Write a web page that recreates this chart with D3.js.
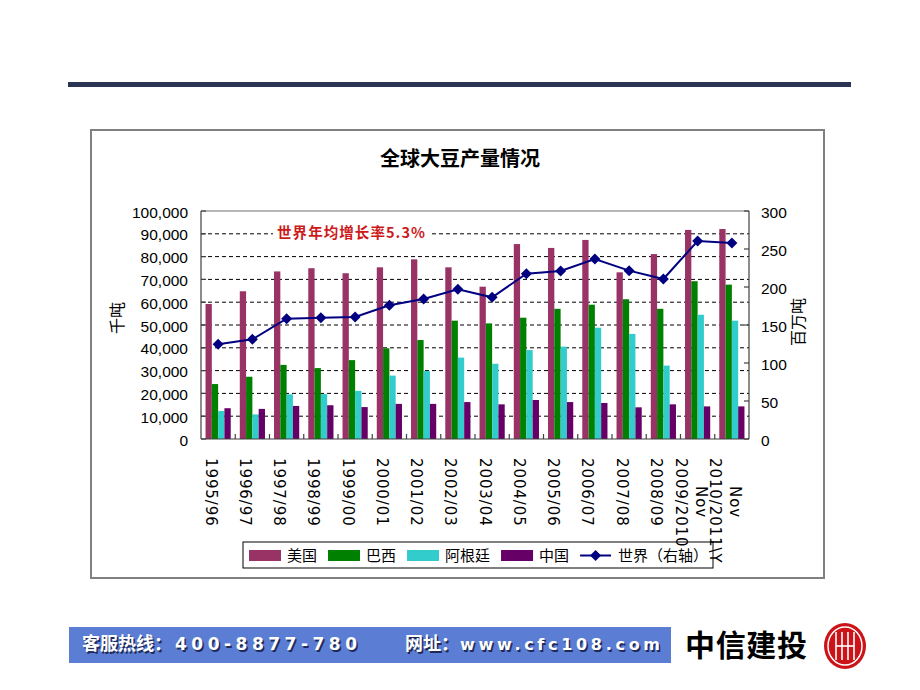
<!DOCTYPE html>
<html><head><meta charset="utf-8">
<script src="https://cdn.jsdelivr.net/npm/d3@7"></script>
<style>body{margin:0;background:#fff}svg{display:block}</style>
</head><body>
<svg id="c" width="920" height="690"></svg>
<script>
// ---------- data ----------
const categories = ["1995/96","1996/97","1997/98","1998/99","1999/00","2000/01","2001/02","2002/03","2003/04","2004/05","2005/06","2006/07","2007/08","2008/09","2009/2010\nNov","2010/2011\\Y\nNov"];
const usa       = [59200,64800,73500,74900,72700,75300,78800,75300,66800,85500,83800,87300,73100,81100,91700,92100];
const brazil    = [24100,27300,32500,31100,34600,39800,43400,51900,50700,53200,57100,58900,61300,57100,69200,67700];
const argentina = [12300,10800,19600,19700,21100,27800,29800,35700,33000,39000,40500,48800,46100,32200,54500,51900];
const china     = [13500,13200,14500,14800,14000,15400,15400,16200,15200,17100,16200,15800,13900,15200,14300,14300];
const world     = [124.6,131.2,158.3,159.6,160.5,175.9,184.2,197.0,186.4,217.5,221.1,236.8,221.5,210.5,260.5,257.9];
const seriesNames = ["美国","巴西","阿根廷","中国"];
const worldName = "世界（右轴）";
const leftTicks = [0,10000,20000,30000,40000,50000,60000,70000,80000,90000,100000];
const rightTicks = [0,50,100,150,200,250,300];
const title = "全球大豆产量情况";
const leftTitle = "千吨";
const rightTitle = "百万吨";
const note = "世界年均增长率5.3%";

// ---------- styles ----------
const colors = ["#993366","#008000","#33CCCC","#660066"];
const worldColor = "#000080";
const cjk = "'Noto Sans CJK SC', sans-serif";
const num = "'Liberation Sans', Arial, sans-serif";

const svg = d3.select("#c");
const L = 201, R = 749, T = 211, B = 439;

// page decorations
svg.append("rect").attr("x",68).attr("y",82).attr("width",783).attr("height",5).attr("fill","#2b3553");
svg.append("rect").attr("x",91).attr("y",130).attr("width",733).attr("height",448)
  .attr("fill","#fff").attr("stroke","#808080").attr("stroke-width",2);

// scales
const x = d3.scaleBand().domain(categories).range([L,R]).paddingInner(0).paddingOuter(0);
const xs = d3.scaleBand().domain(seriesNames).range([0,x.bandwidth()]).paddingInner(0).paddingOuter(0.72);
const y = d3.scaleLinear().domain([0,100000]).range([B,T]);
const y2 = d3.scaleLinear().domain([0,300]).range([B,T]);

// title
svg.append("text").attr("x",460).attr("y",165.5).attr("text-anchor","middle")
  .attr("font-family",cjk).attr("font-weight","bold").attr("font-size",20).attr("fill","#000").text(title);

// gridlines
svg.append("g").selectAll("line").data(leftTicks.filter(d=>d>0 && d<100000)).join("line")
  .attr("x1",L).attr("x2",R).attr("y1",d=>y(d)).attr("y2",d=>y(d))
  .attr("stroke","#000").attr("stroke-width",1).attr("stroke-dasharray","4,3");

// annotation (with white background covering grid)
svg.append("rect").attr("x",273).attr("y",224).attr("width",156).attr("height",17).attr("fill","#fff");
svg.append("text").attr("x",351).attr("y",237.5).attr("text-anchor","middle")
  .attr("font-family",cjk).attr("font-weight","bold").attr("font-size",14.5)
  .attr("fill","#cc1a1a").attr("textLength",148).attr("lengthAdjust","spacing").text(note);

// bars
const data = [usa,brazil,argentina,china];
const gBars = svg.append("g");
data.forEach((vals,si)=>{
  gBars.append("g").selectAll("rect").data(vals).join("rect")
    .attr("x",(d,i)=>x(categories[i])+xs(seriesNames[si]))
    .attr("width",xs.bandwidth())
    .attr("y",d=>y(d)).attr("height",d=>B-y(d))
    .attr("fill",colors[si]);
});

// plot frame / axes
const frame = svg.append("g").attr("stroke","#404040").attr("stroke-width",1.2).attr("fill","none");
frame.append("line").attr("x1",L).attr("x2",R).attr("y1",T).attr("y2",T).attr("stroke","#707070");
frame.append("line").attr("x1",L).attr("x2",L).attr("y1",T).attr("y2",B);
frame.append("line").attr("x1",R).attr("x2",R).attr("y1",T).attr("y2",B);
frame.append("line").attr("x1",L).attr("x2",R).attr("y1",B).attr("y2",B);
// ticks
frame.selectAll(".lt").data(leftTicks).join("line").attr("x1",L).attr("x2",L+5).attr("y1",d=>y(d)).attr("y2",d=>y(d));
frame.selectAll(".rt").data(rightTicks).join("line").attr("x1",R-5).attr("x2",R).attr("y1",d=>y2(d)).attr("y2",d=>y2(d));
frame.selectAll(".bt").data(categories.slice(1)).join("line").attr("x1",d=>x(d)).attr("x2",d=>x(d)).attr("y1",B).attr("y2",B-5);

// world line
const cx = c => x(c)+x.bandwidth()/2;
svg.append("path").datum(world)
  .attr("d",d3.line().x((d,i)=>cx(categories[i])).y(d=>y2(d)))
  .attr("fill","none").attr("stroke",worldColor).attr("stroke-width",2);
const diamond = "M0,-5.5L5.5,0L0,5.5L-5.5,0Z";
svg.append("g").selectAll("path").data(world).join("path")
  .attr("d",diamond).attr("transform",(d,i)=>`translate(${cx(categories[i])},${y2(d)})`)
  .attr("fill",worldColor);

// left tick labels
const fmt = d3.format(",");
svg.append("g").selectAll("text").data(leftTicks).join("text")
  .attr("x",188).attr("y",d=>y(d)+6.5).attr("text-anchor","end")
  .attr("font-family",num).attr("font-size",15.5).attr("fill","#000").text(d=>fmt(d));
// right tick labels
svg.append("g").selectAll("text").data(rightTicks).join("text")
  .attr("x",761).attr("y",d=>y2(d)+6.5).attr("text-anchor","start")
  .attr("font-family",num).attr("font-size",15.5).attr("fill","#000").text(d=>d);

// axis titles
svg.append("text").attr("transform","translate(123,318) rotate(-90)").attr("text-anchor","middle")
  .attr("font-family",cjk).attr("font-size",16).attr("fill","#000").text(leftTitle);
svg.append("text").attr("transform","translate(804,322) rotate(-90)").attr("text-anchor","middle")
  .attr("font-family",cjk).attr("font-size",16).attr("fill","#000").text(rightTitle);

// legend
const lg = svg.append("g");
lg.append("rect").attr("x",243).attr("y",542).attr("width",470).attr("height",26)
  .attr("fill","#fff").attr("stroke","#000").attr("stroke-width",1);
let cur = 249;
seriesNames.forEach((n,i)=>{
  lg.append("rect").attr("x",cur).attr("y",550).attr("width",32).attr("height",11).attr("fill",colors[i]);
  const t = lg.append("text").attr("x",cur+38).attr("y",561).attr("font-family",cjk).attr("font-size",15).attr("fill","#000").text(n);
  cur += 38 + t.node().getComputedTextLength() + 11;
});
lg.append("line").attr("x1",cur).attr("x2",cur+31).attr("y1",555.5).attr("y2",555.5).attr("stroke",worldColor).attr("stroke-width",2);
lg.append("path").attr("d",diamond).attr("transform",`translate(${cur+15.5},555.5)`).attr("fill",worldColor);
lg.append("text").attr("x",cur+38).attr("y",561).attr("font-family",cjk).attr("font-size",15).attr("fill","#000").text(worldName);

// x labels (rotated)
const xl = svg.append("g").attr("font-family","'DejaVu Sans', sans-serif").attr("font-size",15).attr("fill","#000");
categories.forEach(c=>{
  const lines = c.split("\n");
  const center = cx(c);
  if(lines.length===1){
    xl.append("text").attr("transform",`translate(${center-12.5},458) rotate(90)`)
      .attr("letter-spacing",0.9).text(lines[0]);
  } else {
    xl.append("text").attr("transform",`translate(${center-21.5},458) rotate(90)`)
      .attr("letter-spacing",0.9).text(lines[0]);
    xl.append("text").attr("transform",`translate(${center-1.5},502) rotate(90)`)
      .attr("text-anchor","middle").attr("letter-spacing",0.9).text(lines[1]);
  }
});

// footer banner
svg.append("rect").attr("x",69).attr("y",627).attr("width",602).attr("height",36).attr("fill","#5b7dd3");
function shadowText(xp,yp,txt,opts){
  [["#1e2a5a",1.5],["#fff",0]].forEach(([col,off])=>{
    const t = svg.append("text").attr("x",xp+off).attr("y",yp+off).attr("fill",col)
      .attr("font-family",opts.font).attr("font-weight","bold").attr("font-size",opts.size).text(txt);
    if(opts.len) t.attr("textLength",opts.len).attr("lengthAdjust","spacing");
  });
}
shadowText(82,650,"客服热线：",{font:cjk,size:18,len:90});
shadowText(175,650,"400-8877-780",{font:"'DejaVu Sans', sans-serif",size:17,len:182});
shadowText(405,650,"网址：",{font:cjk,size:18,len:54});
shadowText(460,650,"www.cfc108.com",{font:"'DejaVu Sans', sans-serif",size:16,len:200});

// company logo
svg.append("text").attr("x",685).attr("y",656).attr("font-family",cjk).attr("font-weight","bold")
  .attr("font-size",30).attr("fill","#000").attr("textLength",122).attr("lengthAdjust","spacing").text("中信建投");
const lgC = svg.append("g").attr("transform","translate(845,646)");
lgC.append("ellipse").attr("rx",21).attr("ry",23).attr("fill","#cc1418");
lgC.append("ellipse").attr("rx",17).attr("ry",19).attr("fill","none").attr("stroke","#fff").attr("stroke-width",1.5);
[-9,-3,3,9].forEach(dx=>{
  lgC.append("line").attr("x1",dx).attr("x2",dx).attr("y1",-14).attr("y2",14).attr("stroke","#fff").attr("stroke-width",1.6);
});
lgC.append("line").attr("x1",-9).attr("x2",9).attr("y1",0).attr("y2",0).attr("stroke","#fff").attr("stroke-width",1.6);
</script>
</body></html>
